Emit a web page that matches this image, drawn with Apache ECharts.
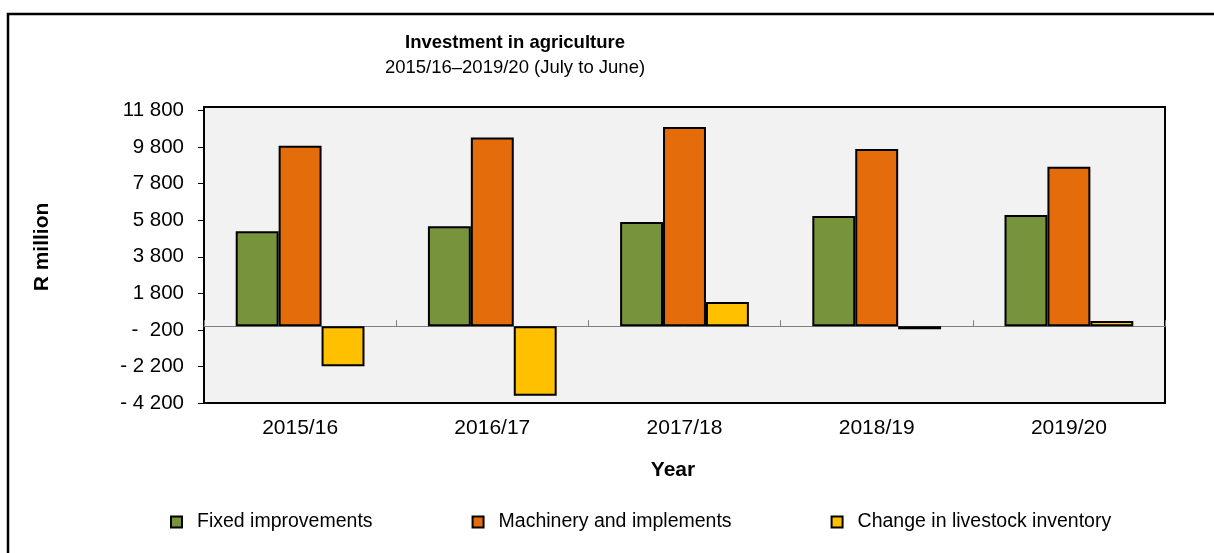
<!DOCTYPE html>
<html>
<head>
<meta charset="utf-8">
<title>Investment in agriculture</title>
<script src="https://cdn.jsdelivr.net/npm/echarts@6/dist/echarts.min.js"></script>
<style>
  html, body { margin: 0; padding: 0; background: #ffffff; }
  #chart { width: 1214px; height: 553px; }
</style>
</head>
<body>
<div id="chart"></div>
<script>
// Agricultural investment, R million, July-June years
const categories = ['2015/16', '2016/17', '2017/18', '2018/19', '2019/20'];
const fixedImprovements = [5200, 5480, 5700, 6030, 6090];
const machineryAndImplements = [9880, 10330, 10900, 9700, 8730];
const livestockInventoryChange = [-2190, -3810, 1330, -170, 290];

// Value-axis ticks and their printed labels
const yTickValues = [-4200, -2200, -200, 1800, 3800, 5800, 7800, 9800, 11800];
const yTickLabels = ['- 4 200', '- 2 200', '-  200', '1 800', '3 800', '5 800', '7 800', '9 800', '11 800'];

const FONT = '"Liberation Sans", Arial, Helvetica, sans-serif';
const chart = echarts.init(document.getElementById('chart'), null, { renderer: 'canvas' });

const barBorder = { borderColor: '#000000', borderWidth: 2 };

chart.setOption({
  animation: false,
  backgroundColor: '#ffffff',
  textStyle: { fontFamily: FONT, color: '#000000' },
  title: [
    {
      text: 'Investment in agriculture',
      left: 515, top: 33, padding: 0, textAlign: 'center',
      textStyle: { fontFamily: FONT, fontSize: 18.5, fontWeight: 'bold', color: '#000000' }
    },
    {
      text: '2015/16\u20132019/20 (July to June)',
      left: 515, top: 58, padding: 0, textAlign: 'center',
      textStyle: { fontFamily: FONT, fontSize: 18.5, fontWeight: 'normal', color: '#000000' }
    }
  ],
  legend: {
    left: 170, top: 512, padding: 0,
    icon: 'rect', itemWidth: 11, itemHeight: 11, itemGap: 99,
    selectedMode: false,
    textStyle: { fontFamily: FONT, fontSize: 19.5, color: '#000000', padding: [0, 0, 0, 10] },
    data: ['Fixed improvements', 'Machinery and implements', 'Change in livestock inventory']
  },
  grid: {
    left: 204, right: 49, top: 107, bottom: 150,
    containLabel: false, outerBoundsMode: 'none',
    show: true, backgroundColor: '#f2f2f2', borderColor: '#000000', borderWidth: 2
  },
  xAxis: [
    {
      // labels along the bottom of the plot
      type: 'category', data: categories, position: 'bottom',
      axisLine: { show: false, onZero: false },
      axisTick: { show: false },
      axisLabel: { margin: 15, fontFamily: FONT, fontSize: 21, color: '#000000' },
      splitLine: { show: false }
    },
    {
      // thin baseline through zero with category ticks
      type: 'category', data: categories, position: 'top',
      axisLine: { show: true, onZero: true, lineStyle: { color: '#808080', width: 1 } },
      axisTick: { show: true, inside: false, length: 6, lineStyle: { color: '#808080', width: 1 } },
      axisLabel: { show: false },
      splitLine: { show: false }
    }
  ],
  yAxis: {
    type: 'value', min: -4200, max: 12000, interval: 2000,
    axisLine: { show: false },
    axisTick: { show: true, length: 6, customValues: yTickValues, lineStyle: { color: '#000000', width: 1 } },
    axisLabel: {
      margin: 20, fontFamily: FONT, fontSize: 20.5, color: '#000000',
      customValues: yTickValues,
      formatter: function (v) {
        const i = yTickValues.indexOf(Math.round(v));
        return i >= 0 ? yTickLabels[i] : '';
      }
    },
    splitLine: { show: false }
  },
  series: [
    {
      name: 'Fixed improvements', type: 'bar', xAxisIndex: 0, data: fixedImprovements,
      barGap: '0%', barCategoryGap: '33%',
      itemStyle: Object.assign({ color: '#77933c' }, barBorder)
    },
    {
      name: 'Machinery and implements', type: 'bar', xAxisIndex: 0, data: machineryAndImplements,
      barGap: '0%', barCategoryGap: '33%',
      itemStyle: Object.assign({ color: '#e46c0a' }, barBorder)
    },
    {
      name: 'Change in livestock inventory', type: 'bar', xAxisIndex: 0, data: livestockInventoryChange,
      barGap: '0%', barCategoryGap: '33%',
      itemStyle: Object.assign({ color: '#ffc000' }, barBorder)
    }
  ],
  graphic: [
    {
      // outer frame
      type: 'rect', silent: true, z: 100,
      shape: { x: 8, y: 14, width: 1400, height: 800 },
      style: { fill: 'none', stroke: '#000000', lineWidth: 2.5 }
    },
    {
      type: 'text', silent: true, x: 42, y: 247, rotation: Math.PI / 2,
      style: {
        text: 'R million', fontFamily: FONT, fontSize: 21, fontWeight: 'bold',
        fill: '#000000', align: 'center', verticalAlign: 'middle'
      }
    },
    {
      type: 'text', silent: true, x: 673, y: 470,
      style: {
        text: 'Year', fontFamily: FONT, fontSize: 21, fontWeight: 'bold',
        fill: '#000000', align: 'center', verticalAlign: 'middle'
      }
    }
  ]
});
</script>
</body>
</html>
